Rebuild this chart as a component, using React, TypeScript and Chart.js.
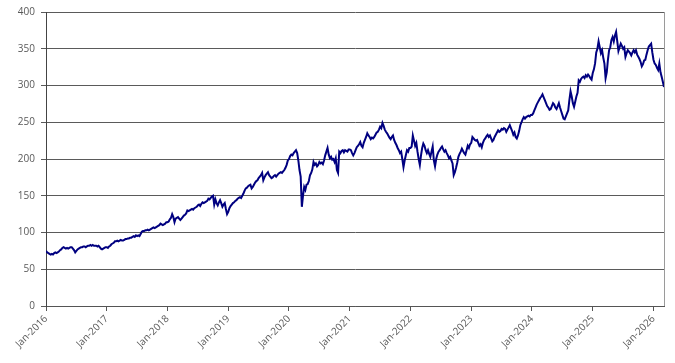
import React, { useEffect, useRef } from 'react';
import { Chart, registerables } from 'chart.js';

Chart.register(...registerables);

// Weekly index values, one array per calendar year (52 weeks each)
const START_YEAR = 2016;
const v2016 = [
  75, 73, 72, 71, 70, 71, 70, 72, 73, 72,
  73, 74, 76, 77, 79, 80, 79, 78, 79, 78,
  79, 80, 80, 78, 76, 73, 75, 77, 78, 79,
  80, 80, 81, 81, 80, 81, 82, 82, 83, 82,
  83, 82, 82, 82, 81, 82, 80, 78, 77, 78,
  79, 80,
];
const v2017 = [
  80, 79, 81, 82, 84, 85, 86, 88, 88, 89,
  88, 89, 90, 89, 89, 90, 91, 91, 92, 92,
  93, 93, 94, 95, 94, 96, 95, 96, 95, 98,
  101, 102, 102, 103, 103, 104, 103, 104, 105, 106,
  107, 106, 107, 108, 109, 110, 112, 111, 110, 111,
  112, 114,
];
const v2018 = [
  114, 115, 118, 120, 125, 121, 114, 119, 120, 121,
  119, 117, 119, 121, 123, 124, 126, 130, 129, 130,
  131, 132, 131, 133, 134, 135, 137, 138, 136, 139,
  141, 140, 141, 142, 143, 146, 145, 147, 149, 150,
  138, 145, 140, 137, 141, 144, 140, 135, 138, 140,
  132, 125,
];
const v2019 = [
  128, 133, 136, 138, 140, 141, 143, 144, 146, 147,
  148, 147, 150, 153, 157, 160, 161, 163, 164, 165,
  160, 162, 165, 168, 170, 171, 174, 176, 178, 181,
  171, 175, 178, 180, 182, 178, 176, 174, 175, 177,
  178, 176, 178, 180, 181, 182, 181, 183, 185, 188,
  192, 198,
];
const v2020 = [
  200, 204, 206, 205, 208, 210, 212, 208, 198, 185,
  176, 135, 150, 162, 158, 165, 166, 170, 178, 181,
  186, 196, 192, 194, 190, 192, 196, 194, 195, 193,
  198, 205, 210, 215, 206, 201, 203, 199, 200, 196,
  201, 185, 181, 210, 208, 211, 212, 209, 212, 211,
  210, 213,
];
const v2021 = [
  213, 212, 208, 205, 208, 212, 216, 218, 220, 223,
  218, 216, 222, 226, 230, 235, 232, 230, 227, 229,
  228, 230, 233, 236, 237, 240, 244, 242, 249, 245,
  240, 237, 235, 232, 229, 227, 230, 232, 226, 222,
  219, 215, 212, 208, 210, 200, 189, 198, 205, 212,
  210, 215,
];
const v2022 = [
  215, 217, 232, 225, 218, 222, 210, 200, 192, 205,
  215, 221, 218, 212, 208, 212, 207, 203, 210, 217,
  198, 190, 200, 206, 210, 212, 215, 217, 213, 210,
  212, 208, 205, 201, 203, 198, 194, 178, 182, 188,
  195, 203, 207, 210, 214, 211, 208, 206, 212, 218,
  215, 220,
];
const v2023 = [
  222, 230, 228, 226, 225, 226, 222, 218, 220, 216,
  222, 226, 228, 231, 233, 230, 232, 228, 224, 226,
  230, 233, 236, 239, 237, 238, 241, 240, 242, 241,
  237, 240, 243, 246, 242, 238, 233, 236, 230, 228,
  232, 238, 246, 250, 254, 257, 255, 257, 258, 259,
  258, 260,
];
const v2024 = [
  260, 262, 266, 270, 274, 277, 280, 283, 285, 288,
  284, 280, 276, 272, 270, 267, 268, 272, 276, 274,
  270, 268, 272, 276, 270, 265, 260, 255, 254, 258,
  262, 266, 280, 292, 285, 276, 271, 278, 285, 290,
  307, 305, 309, 311, 312, 310, 314, 312, 315, 313,
  310, 308,
];
const v2025 = [
  317, 322, 330, 345, 350, 360, 352, 344, 348, 338,
  330, 310, 318, 335, 348, 352, 362, 366, 360, 368,
  373, 360, 347, 352, 357, 354, 350, 352, 339, 344,
  348, 346, 344, 341, 345, 348, 345, 348, 342, 339,
  336, 332, 326, 329, 334, 335, 342, 348, 353, 355,
  357, 345,
];
const v2026 = [335, 330, 328, 324, 321, 330, 318, 312, 305, 298];

const yearSeries = [v2016, v2017, v2018, v2019, v2020, v2021, v2022, v2023, v2024, v2025, v2026];
const xTickYears = [2016, 2017, 2018, 2019, 2020, 2021, 2022, 2023, 2024, 2025, 2026];
const yMin = 0;
const yMax = 400;
const yStep = 50;

const frameBorder = {
  id: 'frameBorder',
  afterDraw(chart: any) {
    const { ctx, chartArea } = chart;
    ctx.save();
    ctx.strokeStyle = '#9a9a9a';
    ctx.lineWidth = 1;
    ctx.beginPath();
    const x = Math.round(chartArea.right) + 0.5;
    ctx.moveTo(x, chartArea.top);
    ctx.lineTo(x, chartArea.bottom);
    ctx.stroke();
    ctx.restore();
  },
};

export default function App() {
  const ref = useRef<HTMLCanvasElement | null>(null);

  useEffect(() => {
    document.body.style.margin = '0';
    const points = yearSeries.flatMap((arr, yi) =>
      arr.map((v, w) => ({ x: START_YEAR + yi + w / 52, y: v }))
    );
    const lastX = points[points.length - 1].x;
    const font = { family: '"Open Sans", "DejaVu Sans", sans-serif', size: 10 };
    const chart = new Chart(ref.current as HTMLCanvasElement, {
      type: 'line',
      data: {
        datasets: [
          {
            data: points,
            borderColor: '#000080',
            borderWidth: 2,
            pointRadius: 0,
            tension: 0,
            fill: false,
          },
        ],
      },
      options: {
        animation: false,
        responsive: false,
        parsing: false as any,
        layout: { padding: { top: 12, right: 11, left: 0, bottom: 0 } },
        plugins: { legend: { display: false }, tooltip: { enabled: false } },
        scales: {
          x: {
            type: 'linear',
            min: START_YEAR,
            max: lastX,
            afterFit: (s: any) => {
              s.height = 57;
            },
            afterBuildTicks: (s: any) => {
              s.ticks = xTickYears.map((y) => ({ value: y }));
            },
            ticks: {
              autoSkip: false,
              includeBounds: false,
              minRotation: 45,
              maxRotation: 45,
              padding: 2,
              color: '#595959',
              font,
              callback: (v: any) => 'Jan-' + v,
            },
            grid: {
              drawOnChartArea: false,
              tickLength: 5,
              color: '#555555',
            },
            border: { color: '#555555', width: 1 },
          },
          y: {
            min: yMin,
            max: yMax,
            afterFit: (s: any) => {
              s.width = 46;
            },
            ticks: {
              stepSize: yStep,
              padding: 6,
              color: '#595959',
              font,
            },
            grid: {
              color: '#5a5a5a',
              lineWidth: 1,
              tickLength: 5,
            },
            border: { color: '#444444', width: 1 },
          },
        },
      },
      plugins: [frameBorder],
    });
    return () => chart.destroy();
  }, []);

  return (
    <div style={{ position: 'absolute', left: 0, top: 0, width: 675, height: 363 }}>
      <canvas ref={ref} width={675} height={363} />
    </div>
  );
}
